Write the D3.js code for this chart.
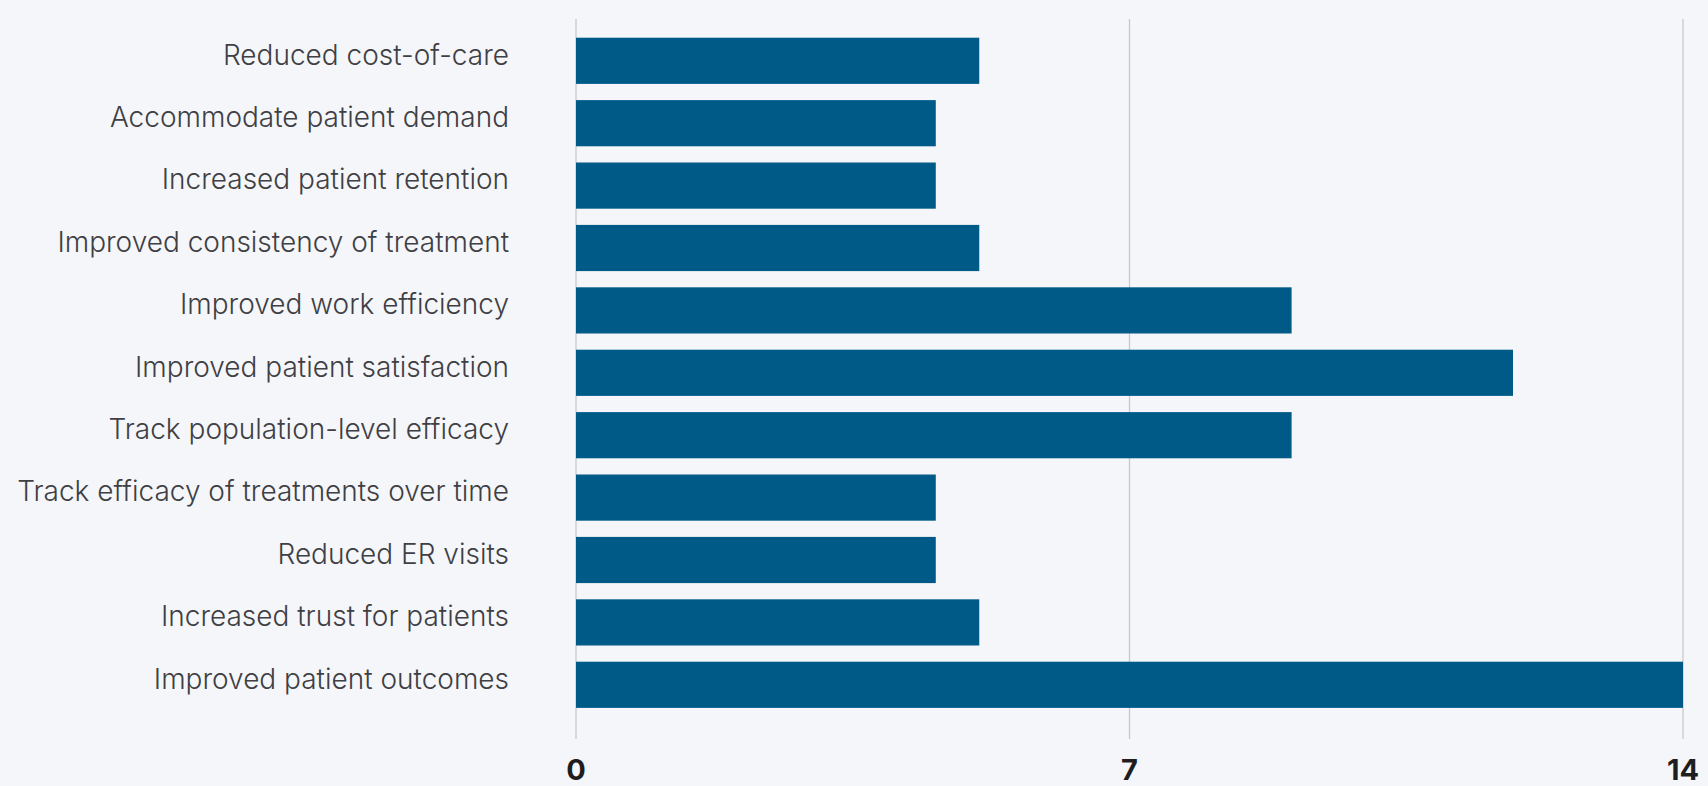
<!DOCTYPE html>
<html>
<head>
<meta charset="utf-8">
<script src="https://cdn.jsdelivr.net/npm/d3@7"></script>
<style>
  html, body { margin: 0; padding: 0; background: #f5f6fa; }
  svg { display: block; }
</style>
</head>
<body>
<div id="chart"></div>
<script>
var width = 1708
var height = 786

// data, top to bottom
var categories = [
    "Reduced cost-of-care",
    "Accommodate patient demand",
    "Increased patient retention",
    "Improved consistency of treatment",
    "Improved work efficiency",
    "Improved patient satisfaction",
    "Track population-level efficacy",
    "Track efficacy of treatments over time",
    "Reduced ER visits",
    "Increased trust for patients",
    "Improved patient outcomes"
]
var values = [5.1, 4.55, 4.55, 5.1, 9.05, 11.85, 9.05, 4.55, 4.55, 5.1, 14]
var ticks = [0, 7, 14]

var x = d3.scaleLinear()
    .domain([0, 14])
    .range([576, 1683])

var y = d3.scaleBand()
    .domain(categories)
    .range([29.6, 716])
    .paddingInner(0.26)
    .paddingOuter(0.13)

var svg = d3.select("#chart")
    .append("svg")
        .attr("width", width)
        .attr("height", height)

svg.append("rect")
    .attr("width", width)
    .attr("height", height)
    .attr("fill", "#f5f6fa")

// vertical grid lines
svg.append("g")
    .selectAll("line")
    .data(ticks)
    .enter().append("line")
        .attr("x1", function(d) { return x(d) })
        .attr("x2", function(d) { return x(d) })
        .attr("y1", 19)
        .attr("y2", 739)
        .attr("stroke", "#c9c9cc")
        .attr("stroke-width", 1.3)

svg.append("g")
    .selectAll("rect")
    .data(values)
    .enter().append("rect")
        .attr("x", x(0))
        .attr("y", function(d, i) { return y(categories[i]) })
        .attr("width", function(d) { return x(d) - x(0) })
        .attr("height", y.bandwidth())
        .attr("fill", "#005a87")

// category labels
svg.append("g")
    .selectAll("text")
    .data(categories)
    .enter().append("text")
        .attr("x", 509)
        .attr("y", function(d) { return y(d) + y.bandwidth() / 2 - 6 })
        .attr("dy", "0.35em")
        .attr("text-anchor", "end")
        .attr("font-family", "Inter, 'Open Sans', sans-serif")
        .attr("font-weight", 300)
        .attr("font-size", "28px")
        .attr("fill", "#3f3f44")
        .text(function(d) { return d })

// x tick labels
svg.append("g")
    .selectAll("text")
    .data(ticks)
    .enter().append("text")
        .attr("x", function(d) { return x(d) })
        .attr("y", 780)
        .attr("text-anchor", "middle")
        .attr("font-family", "Inter, 'Open Sans', sans-serif")
        .attr("font-weight", 700)
        .attr("font-size", "29px")
        .attr("fill", "#1e1e1e")
        .text(function(d) { return d })
</script>
</body>
</html>
